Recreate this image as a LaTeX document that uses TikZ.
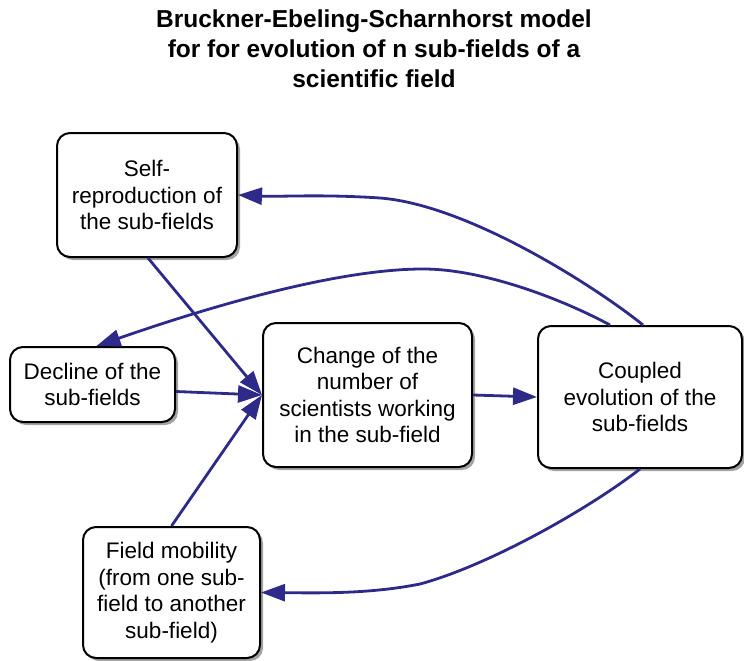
\documentclass[tikz,border=0pt]{standalone}
\usepackage{fontspec}
\setmainfont{Liberation Sans}
\usetikzlibrary{arrows.meta,shadows}
\definecolor{arrowc}{RGB}{46,42,138}
\tikzset{
  box/.style={draw=black, line width=2pt, rounded corners=13pt, fill=white,
    align=center, inner sep=2pt,
    font=\fontsize{22.5}{26.5}\selectfont,
    drop shadow={shadow xshift=3pt, shadow yshift=-3pt, fill=black!45, opacity=0.8}},
  conn/.style={draw=arrowc, line width=2.8pt,
    -{Triangle[length=24pt,width=17pt]}},
  ttl/.style={align=center, inner sep=0pt, anchor=north,
    font=\fontsize{24.5}{30}\selectfont\bfseries}
}
\begin{document}
\begin{tikzpicture}[x=1pt,y=-1pt]
\useasboundingbox (0,0) rectangle (744,661);
\node[ttl] (title) at (374,10) {Bruckner-Ebeling-Scharnhorst model\\for for evolution of n sub-fields of a\\scientific field};

\node[box, minimum width=180pt, minimum height=124pt] (self) at (147,195) {Self-\\reproduction of\\the sub-fields};
\node[box, minimum width=165pt, minimum height=75pt] (decline) at (92.5,384.5) {Decline of the\\sub-fields};
\node[box, minimum width=209pt, minimum height=144pt] (change) at (367.5,395) {Change of the\\number of\\scientists working\\in the sub-field};
\node[box, minimum width=204pt, minimum height=142pt] (coupled) at (640,397) {Coupled\\evolution of the\\sub-fields};
\node[box, minimum width=177pt, minimum height=131pt] (field) at (171.5,592.5) {Field mobility\\(from one sub-\\field to another\\sub-field)};

\draw[conn] ([xshift=3pt]coupled.north) .. controls (600,290) and (470,205) .. (380,198) .. controls (320,194) and (280,197) .. (self.east);
\draw[conn] ([xshift=-30pt]coupled.north) .. controls (560,298) and (480,268) .. (420,269) .. controls (330,270) and (200,310) .. ([xshift=4pt]decline.north);
\draw[conn] ([xshift=1pt]self.south) -- (change.west);
\draw[conn] ([yshift=-7pt]decline.east) -- (change.west);
\draw[conn] (field.north) -- (change.west);
\draw[conn] (change.east) -- (coupled.west);
\draw[conn] (coupled.south) .. controls (590,508) and (490,565) .. (420,584) .. controls (370,594) and (320,593) .. (field.east);
\end{tikzpicture}
\end{document}
